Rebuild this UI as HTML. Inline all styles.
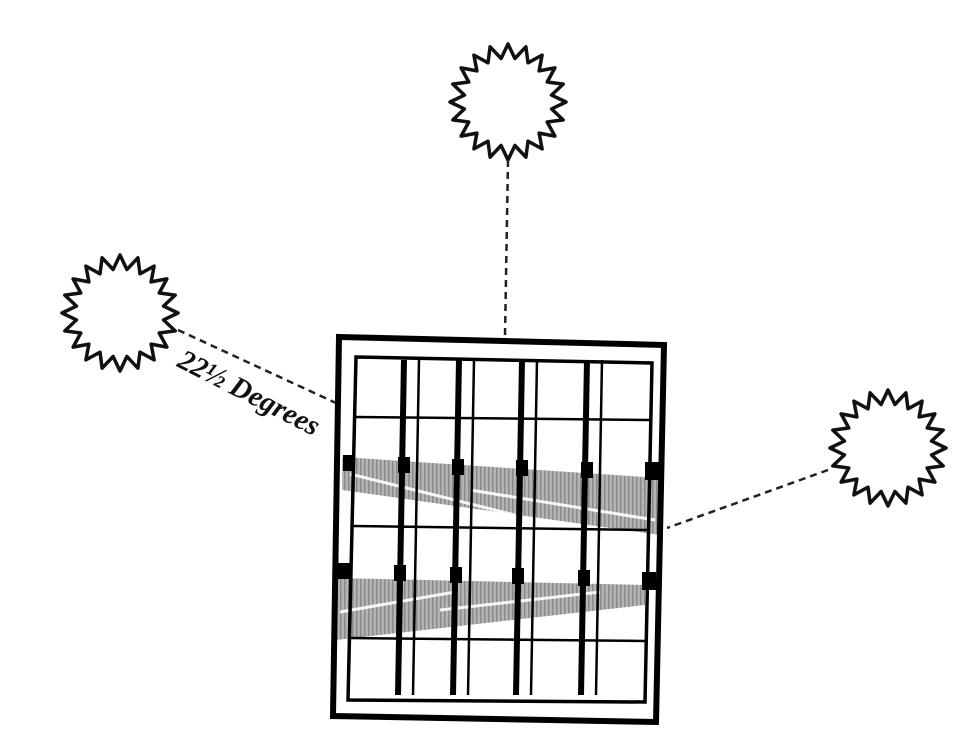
<!DOCTYPE html>
<html><head><meta charset="utf-8"><style>
html,body{margin:0;padding:0;background:#fff;}
svg{display:block;}
</style></head><body>
<svg id="fig" width="968" height="745" viewBox="0 0 968 745" xmlns="http://www.w3.org/2000/svg">
<defs>
<pattern id="hatch" width="4" height="4" patternUnits="userSpaceOnUse">
<rect width="4" height="4" fill="#b4b4b4"/><rect width="1.5" height="4" fill="#8a8a8a"/>
</pattern>
</defs>
<rect width="968" height="745" fill="#fff"/>
<g id="suns" fill="none" stroke="#111" stroke-width="3.5" stroke-linejoin="round"></g>
<g stroke="#222" stroke-width="2.5" stroke-dasharray="7,5" fill="none">
  <line x1="508" y1="160" x2="505" y2="336"/>
  <line x1="178" y1="330" x2="336" y2="403"/>
  <line x1="828" y1="470" x2="667" y2="528"/>
</g>
<text x="0" y="0" transform="translate(176,366) rotate(27)" font-family="Liberation Serif, serif" font-style="italic" font-weight="bold" font-size="29" fill="#111">22½ Degrees</text>
<g fill="url(#hatch)">
  <polygon points="342,457 660,478 660,535 342,490"/>
  <polygon points="336,578 645,585 645,605 336,640"/>
</g>
<g stroke="#fff" stroke-width="3" opacity="0.9">
  <line x1="350" y1="474" x2="515" y2="515"/>
  <line x1="470" y1="490" x2="655" y2="520"/>
  <line x1="340" y1="612" x2="455" y2="592"/>
  <line x1="440" y1="610" x2="600" y2="592"/>
</g>
<g fill="none" stroke="#000">
  <polygon points="339,337 664,345 656,722 333,716" stroke-width="6"/>
  <polygon points="356,357 652,363 645,702 348,700" stroke-width="3.5"/>
  <g stroke-width="2.5">
    <line x1="356" y1="417" x2="650" y2="420"/>
    <line x1="353" y1="526" x2="647" y2="530"/>
    <line x1="350" y1="638" x2="645" y2="641"/>
  </g>
  <g id="slats"></g>
</g>
<g fill="#000">
  <rect x="343" y="455" width="12" height="16"/><rect x="398" y="457" width="12" height="16"/>
  <rect x="452" y="459" width="12" height="16"/><rect x="516" y="460" width="12" height="16"/>
  <rect x="581" y="462" width="12" height="16"/><rect x="645" y="462" width="14" height="18"/>
  <rect x="338" y="563" width="12" height="16"/><rect x="394" y="565" width="12" height="16"/>
  <rect x="450" y="567" width="12" height="16"/><rect x="512" y="568" width="12" height="16"/>
  <rect x="578" y="570" width="12" height="16"/><rect x="642" y="572" width="14" height="18"/>
</g>
<script>
const sunCenters = [[508,102],[120,313],[888,448]];
const sunNames = ['sun-overhead','sun-left','sun-right'];
const g = document.getElementById('suns');
sunCenters.forEach((c, k) => {
  const n = 40, ro = 58, ri = 44;
  let pts = [];
  for (let i = 0; i < n; i++) {
    const a = i / n * Math.PI * 2;
    const r = i % 2 ? ri : ro;
    pts.push((c[0] + r * Math.cos(a)).toFixed(1) + ',' + (c[1] + r * Math.sin(a)).toFixed(1));
  }
  const p = document.createElementNS('http://www.w3.org/2000/svg', 'polygon');
  p.setAttribute('points', pts.join(' '));
  
  
  g.appendChild(p);
});
const slatX = [402, 457, 520, 585];
const sg = document.getElementById('slats');
slatX.forEach((x, i) => {
  const a = document.createElementNS('http://www.w3.org/2000/svg', 'line');
  a.setAttribute('x1', x + 2); a.setAttribute('y1', 360);
  a.setAttribute('x2', x - 4); a.setAttribute('y2', 695);
  a.setAttribute('stroke-width', '6');
  
  
  sg.appendChild(a);
  const b = document.createElementNS('http://www.w3.org/2000/svg', 'line');
  b.setAttribute('x1', x + 17); b.setAttribute('y1', 360);
  b.setAttribute('x2', x + 11); b.setAttribute('y2', 695);
  b.setAttribute('stroke-width', '2.5');
  
  
  sg.appendChild(b);
});
</script>
</svg>
</body></html>
